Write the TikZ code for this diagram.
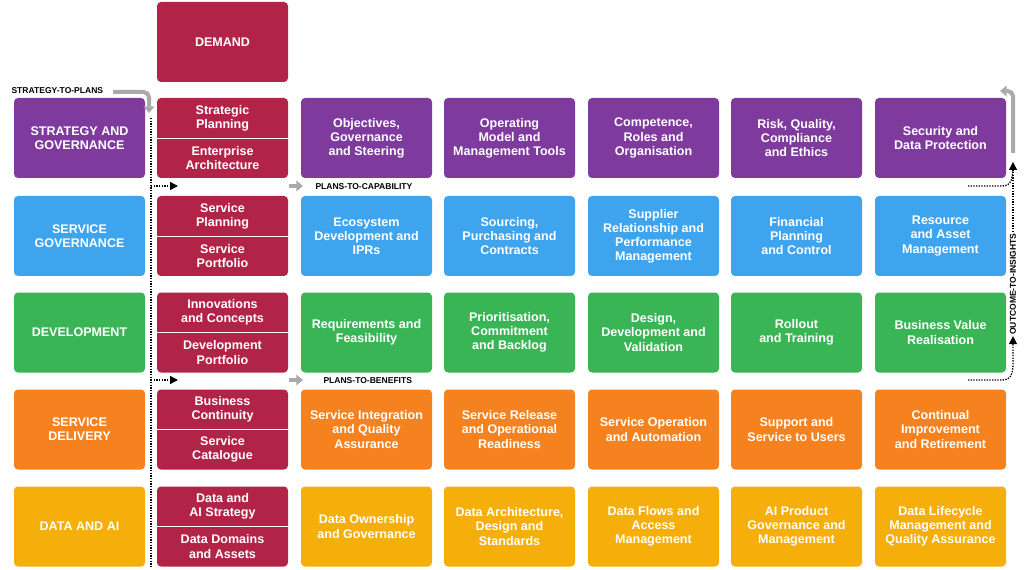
\documentclass[tikz,border=0pt]{standalone}
\usepackage{fontspec}
\setmainfont{Liberation Sans}
\usetikzlibrary{arrows.meta}
\definecolor{cPurple}{RGB}{127,58,158}
\definecolor{cDemand}{RGB}{177,36,72}
\definecolor{cBlue}{RGB}{62,164,238}
\definecolor{cGreen}{RGB}{58,181,86}
\definecolor{cOrange}{RGB}{245,130,31}
\definecolor{cYellow}{RGB}{245,174,10}
\definecolor{cGrey}{RGB}{170,170,170}
\tikzset{every picture/.style={line width=0.75pt}}
\tikzset{
  cell/.style={draw=none,rounded corners=3pt,minimum width=98.25pt,minimum height=60pt,inner sep=0.75pt,
    text=white,align=center,font=\fontsize{9.4}{10.6}\selectfont\bfseries},
  half/.style={cell,minimum height=30pt,fill=none},
  flow/.style={font=\fontsize{6.4}{7}\selectfont\bfseries,inner sep=0.75pt},
  grey/.style={draw=cGrey,line width=3pt,-{Triangle[length=5pt,width=8pt]}},
  dots/.style={densely dotted,line width=1pt},
}
\begin{document}
\begin{tikzpicture}[x=0.75pt,y=0.75pt,yscale=-1,xscale=1]
\path[use as bounding box] (0,0) rectangle (1024,570);

% Demand
\node[cell,fill=cDemand] (dem) at (222.5,42) {DEMAND};

% Left column
\node[cell,fill=cPurple] (sg) at (79.5,138) {STRATEGY AND\\GOVERNANCE};
\node[cell,fill=cBlue] (svg) at (79.5,236) {SERVICE\\GOVERNANCE};
\node[cell,fill=cGreen] (dev) at (79.5,332.5) {DEVELOPMENT};
\node[cell,fill=cOrange] (sd) at (79.5,429.5) {SERVICE\\DELIVERY};
\node[cell,fill=cYellow] (dai) at (79.5,526.5) {DATA AND AI};

% Demand column, split boxes
\foreach \y in {138,236,332.5,429.5,526.5}{
  \node[cell,fill=cDemand] at (222.5,\y) {};
  \draw[white,line width=0.6pt] (157,\y) -- (288,\y);
}
\node[half] (sp) at (222.5,118) {Strategic\\Planning};
\node[half] (ea) at (222.5,158) {Enterprise\\Architecture};
\node[half] (spl) at (222.5,216) {Service\\Planning};
\node[half] (spo) at (222.5,256) {Service\\Portfolio};
\node[half] (ic) at (222.5,312.5) {Innovations\\and Concepts};
\node[half] (dp) at (222.5,352.5) {Development\\Portfolio};
\node[half] (bc) at (222.5,409.5) {Business\\Continuity};
\node[half] (sc) at (222.5,449.5) {Service\\Catalogue};
\node[half] (das) at (222.5,506.5) {Data and\\AI Strategy};
\node[half] (dda) at (222.5,546.5) {Data Domains\\and Assets};

% Purple row
\node[cell,fill=cPurple] (p1) at (366.5,138) {Objectives,\\Governance\\and Steering};
\node[cell,fill=cPurple] (p2) at (509.5,138) {Operating\\Model and\\Management Tools};
\node[cell,fill=cPurple] (p3) at (653.5,138) {Competence,\\Roles and\\Organisation};
\node[cell,fill=cPurple] (p4) at (796.5,138) {Risk, Quality,\\Compliance\\and Ethics};
\node[cell,fill=cPurple] (p5) at (940.5,138) {Security and\\Data Protection};

% Blue row
\node[cell,fill=cBlue] (b1) at (366.5,236) {Ecosystem\\Development and\\IPRs};
\node[cell,fill=cBlue] (b2) at (509.5,236) {Sourcing,\\Purchasing and\\Contracts};
\node[cell,fill=cBlue] (b3) at (653.5,236) {Supplier\\Relationship and\\Performance\\Management};
\node[cell,fill=cBlue] (b4) at (796.5,236) {Financial\\Planning\\and Control};
\node[cell,fill=cBlue] (b5) at (940.5,236) {Resource\\and Asset\\Management};

% Green row
\node[cell,fill=cGreen] (g1) at (366.5,332.5) {Requirements and\\Feasibility};
\node[cell,fill=cGreen] (g2) at (509.5,332.5) {Prioritisation,\\Commitment\\and Backlog};
\node[cell,fill=cGreen] (g3) at (653.5,332.5) {Design,\\Development and\\Validation};
\node[cell,fill=cGreen] (g4) at (796.5,332.5) {Rollout\\and Training};
\node[cell,fill=cGreen] (g5) at (940.5,332.5) {Business Value\\Realisation};

% Orange row
\node[cell,fill=cOrange] (o1) at (366.5,429.5) {Service Integration\\and Quality\\Assurance};
\node[cell,fill=cOrange] (o2) at (509.5,429.5) {Service Release\\and Operational\\Readiness};
\node[cell,fill=cOrange] (o3) at (653.5,429.5) {Service Operation\\and Automation};
\node[cell,fill=cOrange] (o4) at (796.5,429.5) {Support and\\Service to Users};
\node[cell,fill=cOrange] (o5) at (940.5,429.5) {Continual\\Improvement\\and Retirement};

% Yellow row
\node[cell,fill=cYellow] (y1) at (366.5,526.5) {Data Ownership\\and Governance};
\node[cell,fill=cYellow] (y2) at (509.5,526.5) {Data Architecture,\\Design and\\Standards};
\node[cell,fill=cYellow] (y3) at (653.5,526.5) {Data Flows and\\Access\\Management};
\node[cell,fill=cYellow] (y4) at (796.5,526.5) {AI Product\\Governance and\\Management};
\node[cell,fill=cYellow] (y5) at (940.5,526.5) {Data Lifecycle\\Management and\\Quality Assurance};

% Flow labels
\node[flow,anchor=west] (stp) at (10,91) {STRATEGY-TO-PLANS};
\node[flow,anchor=west] (ptc) at (314,187) {PLANS-TO-CAPABILITY};
\node[flow,anchor=west] (ptb) at (322,381) {PLANS-TO-BENEFITS};
\node[flow,rotate=90] (oti) at (1013,284) {OUTCOME-TO-INSIGHTS};

% Coordinates
\coordinate (stpA) at (113,92);
\coordinate (stpB) at (149,113);
\coordinate (dTop) at (151,118);
\coordinate (dBot) at (151,568);
\coordinate (c1) at (151,186);
\coordinate (c2) at (151,380);
\coordinate (oA) at (1013,153);
\coordinate (oB) at (1000,91);
\coordinate (oC) at (1013,162);

% Grey arrows
\draw[grey,rounded corners=4pt] (stpA) -- (149,92) -- (stpB);
\draw[grey,rounded corners=4pt] (oA) -- (1013,91) -- (oB);
\draw[grey] (289,186) -- (303,186);
\draw[grey] (289,380) -- (303,380);

% Dotted arrows
\draw[dots] (dTop) -- (dBot);
\draw[dots,-{Triangle[length=6pt,width=6pt]}] (c1) -- (178,186);
\draw[dots,-{Triangle[length=6pt,width=6pt]}] (c2) -- (178,380);
\draw[dots] (968,186) -- (1002,186) .. controls (1012,186) and (1013,178) .. (oC);
\draw[dots,-{Triangle[length=6pt,width=6pt]}] (968,380) -- (1002,380) .. controls (1012,380) and (1013,372) .. (1013,362) -- (oti.west);
\draw[dots,-{Triangle[length=6pt,width=6pt]}] (oti.east) -- (oC);

\end{tikzpicture}
\end{document}
